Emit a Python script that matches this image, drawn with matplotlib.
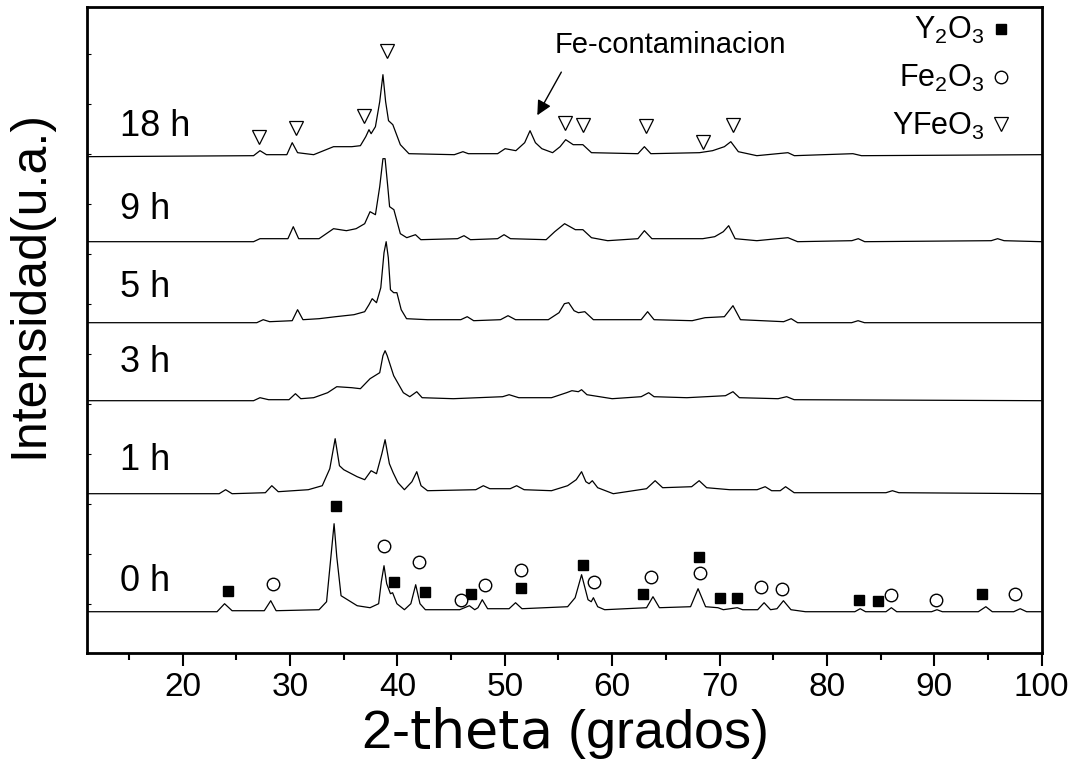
import matplotlib.pyplot as plt
from matplotlib.lines import Line2D
from matplotlib.ticker import MultipleLocator

plt.rcParams['font.family'] = ['Liberation Sans', 'DejaVu Sans']
plt.rcParams['mathtext.fontset'] = 'custom'
plt.rcParams['mathtext.rm'] = 'Liberation Sans'
plt.rcParams['mathtext.it'] = 'Liberation Sans'
plt.rcParams['mathtext.sf'] = 'DejaVu Sans'

# ============================
# Datos: difractogramas (2-theta, intensidad sobre la linea base)
# ============================

tiempos = ["0 h", "1 h", "3 h", "5 h", "9 h", "18 h"]
desplazamientos = [42, 160, 253, 331, 412, 497]
label_y = [72, 193, 291, 366, 444, 527]

tt_0h = [11.06, 23.2, 23.9, 24.6, 27.6, 28.2, 28.7, 32.7, 33.4, 33.85, 34.1, 34.35, 34.75, 35.35,
         36.25, 37.45, 38.25, 38.5, 38.75, 39.0, 39.35, 39.55, 39.95, 40.65, 41.25, 41.7, 42.1,
         42.6, 45.8, 46.7, 47.2, 47.5, 47.9, 48.4, 50.4, 51.0, 51.6, 55.85, 56.55, 57.15, 57.75,
         58.05, 58.25, 58.65, 59.3, 63.2, 63.8, 64.4, 67.3, 68.0, 68.7, 69.85, 70.35, 71.65, 72.15,
         73.55, 74.15, 74.75, 75.35, 75.95, 76.65, 78.0, 82.6, 83.1, 83.6, 85.5, 86.0, 86.5, 89.75,
         90.25, 90.75, 94.1, 94.8, 95.4, 97.4, 98.0, 98.6, 100]
int_0h = [0, 0, 8, 1, 1, 11, 1, 2, 10, 60, 88, 55, 16, 12,
          6, 4, 8, 30, 46, 28, 18, 19, 8, 2, 8, 27, 8,
          2, 2, 6, 2, 4, 12, 3, 3, 9, 3, 5, 14, 37, 12,
          10, 14, 5, 2, 4, 15, 4, 5, 23, 5, 4, 2, 4, 2,
          2, 9, 2, 3, 11, 2, 0, 0, 3, 0, 0, 4, 0, 0,
          2, 0, 0, 5, 0, 0, 3, 0, 0]

tt_1h = [11.06, 23.4, 24.0, 24.6, 27.7, 28.3, 28.9, 31.7, 33.0, 33.7, 34.2, 34.6, 35.0, 36.25,
         36.95, 37.55, 38.05, 38.55, 38.85, 39.25, 39.6, 40.05, 40.65, 41.35, 41.8, 42.2, 42.8,
         47.3, 48.0, 48.6, 50.5, 51.1, 51.8, 54.35, 55.85, 56.65, 57.15, 57.55, 57.85, 58.15,
         58.65, 60.1, 63.2, 64.0, 64.7, 67.4, 68.1, 68.8, 70.95, 73.5, 74.25, 74.85, 75.65,
         76.15, 76.95, 85.5, 86.1, 86.7, 100]
int_1h = [0, 0, 4, 0, 1, 8, 2, 4, 8, 25, 55, 28, 24, 17,
          14, 23, 20, 40, 54, 30, 21, 11, 4, 12, 22, 8, 3,
          4, 8, 5, 5, 8, 4, 3, 8, 14, 22, 12, 10, 13,
          6, 0, 5, 13, 6, 7, 13, 6, 4, 4, 7, 3, 3,
          7, 1, 1, 3, 1, 0]

tt_3h = [11.06, 26.6, 27.2, 28.0, 29.9, 30.5, 31.0, 32.2, 33.5, 34.35, 35.75, 36.55, 37.45, 38.35,
         38.65, 38.85, 39.05, 39.65, 40.55, 41.15, 41.8, 42.3, 45.2, 49.8, 50.4, 51.3, 54.35,
         55.75, 56.25, 56.85, 57.15, 57.65, 60.0, 62.7, 63.4, 63.9, 66.95, 70.55, 71.25, 71.85,
         75.45, 76.25, 76.95, 100]
int_3h = [0, 0, 3, 1, 1, 7, 2, 3, 8, 14, 13, 12, 22, 28,
          45, 50, 45, 25, 8, 4, 9, 3, 2, 4, 6, 3, 3,
          8, 10, 9, 11, 6, 2, 4, 8, 4, 3, 5, 9, 3,
          2, 4, 1, 0]

tt_5h = [11.06, 26.9, 27.5, 28.1, 30.2, 30.7, 31.2, 32.7, 34.25, 35.95, 36.95, 37.35, 37.65, 38.05,
         38.45, 38.75, 38.95, 39.15, 39.35, 39.65, 39.95, 40.35, 40.85, 42.8, 45.9, 46.5, 47.1,
         49.6, 50.3, 51.0, 54.05, 55.05, 55.55, 55.95, 56.45, 56.85, 57.45, 58.25, 62.7, 63.3,
         63.9, 67.45, 68.65, 70.45, 71.25, 71.95, 75.97, 76.67, 77.27, 82.3, 82.9, 83.5, 100]
int_5h = [0, 0, 3, 1, 2, 13, 3, 4, 6, 8, 11, 18, 24, 20,
          35, 70, 81, 65, 33, 30, 30, 13, 4, 3, 3, 6, 2,
          3, 7, 3, 3, 10, 19, 20, 12, 10, 11, 3, 3, 11,
          3, 2, 5, 6, 17, 3, 1, 4, 0, 0, 2, 0, 0]

tt_9h = [11.06, 26.6, 27.2, 28.1, 29.8, 30.3, 30.8, 32.7, 34.05, 35.25, 36.15, 36.95, 37.45, 37.95,
         38.35, 38.65, 38.85, 39.1, 39.27, 39.67, 40.27, 40.87, 41.68, 42.18, 45.6, 46.2, 46.8,
         49.33, 49.93, 50.53, 53.85, 54.65, 55.57, 56.57, 57.27, 58.07, 59.58, 62.4, 63.0, 63.7,
         68.43, 69.55, 70.35, 70.85, 71.45, 73.47, 76.37, 77.27, 82.32, 82.92, 83.52, 95.3, 95.9,
         96.5, 100]
int_9h = [0, 0, 3, 3, 3, 15, 3, 3, 13, 11, 13, 18, 30, 27,
          55, 83, 83, 55, 35, 32, 8, 4, 7, 2, 3, 6, 2,
          3, 7, 3, 2, 10, 18, 12, 12, 4, 1, 3, 11, 3,
          3, 5, 10, 16, 3, 1, 4, 0, 1, 3, 0, 1, 3,
          1, 0]

tt_18h = [11.06, 26.6, 27.2, 27.8, 29.7, 30.2, 30.7, 32.2, 34.05, 35.75, 36.55, 37.05, 37.35, 37.55,
          37.95, 38.35, 38.65, 38.9, 39.17, 39.57, 40.27, 41.07, 45.3, 46.1, 46.6, 49.33, 50.03,
          51.03, 51.85, 52.35, 52.85, 53.45, 54.45, 55.15, 55.67, 56.37, 57.27, 58.07, 62.4, 63.0,
          63.6, 68.13, 69.35, 70.45, 71.05, 71.75, 73.47, 76.37, 76.97, 82.42, 83.22, 100]
int_18h = [0, 1, 6, 2, 2, 14, 4, 2, 10, 10, 11, 20, 27, 23,
           30, 55, 82, 55, 36, 32, 12, 3, 2, 5, 3, 3, 8,
           6, 14, 26, 14, 8, 4, 10, 17, 12, 12, 4, 3, 10,
           3, 4, 6, 10, 15, 5, 1, 4, 1, 3, 1, 2]

# Marcadores de fases
y2o3_x = [24.22, 34.28, 39.68, 42.57, 46.85, 51.51, 57.25, 62.84, 68.08, 70.01, 71.62, 82.96, 84.73, 94.44]
y2o3_y = [63, 148, 72, 62, 60, 66, 89, 60, 97, 56, 56, 54, 53, 60]
fe2o3_x = [28.38, 38.75, 42.01, 45.92, 48.13, 51.48, 58.31, 63.61, 68.17, 73.83, 75.81, 85.96, 90.13, 97.49]
fe2o3_y = [70, 108, 92, 54, 69, 84, 72, 77, 81, 67, 65, 59, 54, 60]
yfeo3_x = [27.13, 30.55, 36.91, 39.0, 55.65, 57.31, 63.15, 68.48, 71.22]
yfeo3_y = [517, 526, 538, 603, 531, 529, 528, 512, 529]

series_tt = [tt_0h, tt_1h, tt_3h, tt_5h, tt_9h, tt_18h]
series_int = [int_0h, int_1h, int_3h, int_5h, int_9h, int_18h]

# ============================
# Figura
# ============================

fig = plt.figure(figsize=(10.73, 7.67), dpi=100)
ax = fig.add_axes([0.0808, 0.1490, 0.8900, 0.8423])

for tt, inten, off in zip(series_tt, series_int, desplazamientos):
    ax.plot(tt, [v + off for v in inten], color="black", lw=0.9)

for nombre, ly in zip(tiempos, label_y):
    ax.text(14.2, ly, nombre, fontsize=26, va="center", ha="left")

ax.plot(y2o3_x, y2o3_y, ls="none", marker="s", ms=6.5, color="black")
ax.plot(fe2o3_x, fe2o3_y, ls="none", marker="o", ms=9, mfc="white", mec="black", mew=1)
ax.plot(yfeo3_x, yfeo3_y, ls="none", marker="v", ms=9.5, mfc="white", mec="black", mew=0.9)

# Flecha de contaminacion
ax.annotate("", xy=(52.9, 536), xytext=(55.39, 584),
            arrowprops=dict(arrowstyle="-|>", color="black", lw=1, mutation_scale=22))
ax.text(54.68, 609, "Fe-contaminacion", fontsize=21, va="center", ha="left")

# Leyenda (texto a la izquierda, marcador a la derecha)
handles = [Line2D([], [], ls="none", marker="s", ms=6.5, color="black"),
           Line2D([], [], ls="none", marker="o", ms=9, mfc="white", mec="black", mew=1),
           Line2D([], [], ls="none", marker="v", ms=9.5, mfc="white", mec="black", mew=0.9)]
etiquetas = [r"Y$_2$O$_3$", r"Fe$_2$O$_3$", r"YFeO$_3$"]
ax.legend(handles, etiquetas, loc="upper right", bbox_to_anchor=(0.985, 1.015), markerfirst=False,
          frameon=False, fontsize=22, handlelength=0.5, handletextpad=0.3, labelspacing=0.55,
          borderaxespad=0.2)

ax.set_xlim(11.06, 100)
ax.set_ylim(1, 647)
ax.xaxis.set_major_locator(MultipleLocator(10))
ax.xaxis.set_minor_locator(MultipleLocator(5))
ax.yaxis.set_major_locator(MultipleLocator(50))
ax.set_yticklabels([])
ax.tick_params(axis="x", which="major", direction="out", length=9, width=1.5, labelsize=24, pad=5)
ax.tick_params(axis="x", which="minor", direction="out", length=5, width=1.5)
ax.tick_params(axis="y", which="major", direction="in", length=3, width=0.8, left=True)
for s in ax.spines.values():
    s.set_linewidth(2)

ax.set_xlabel(r"2-$\mathsf{theta}$ (grados)", fontsize=39, labelpad=1)
ax.set_ylabel("Intensidad(u.a.)", fontsize=36)
ax.yaxis.set_label_coords(-0.036, 0.57)

fig.savefig("out.png", dpi=100)
